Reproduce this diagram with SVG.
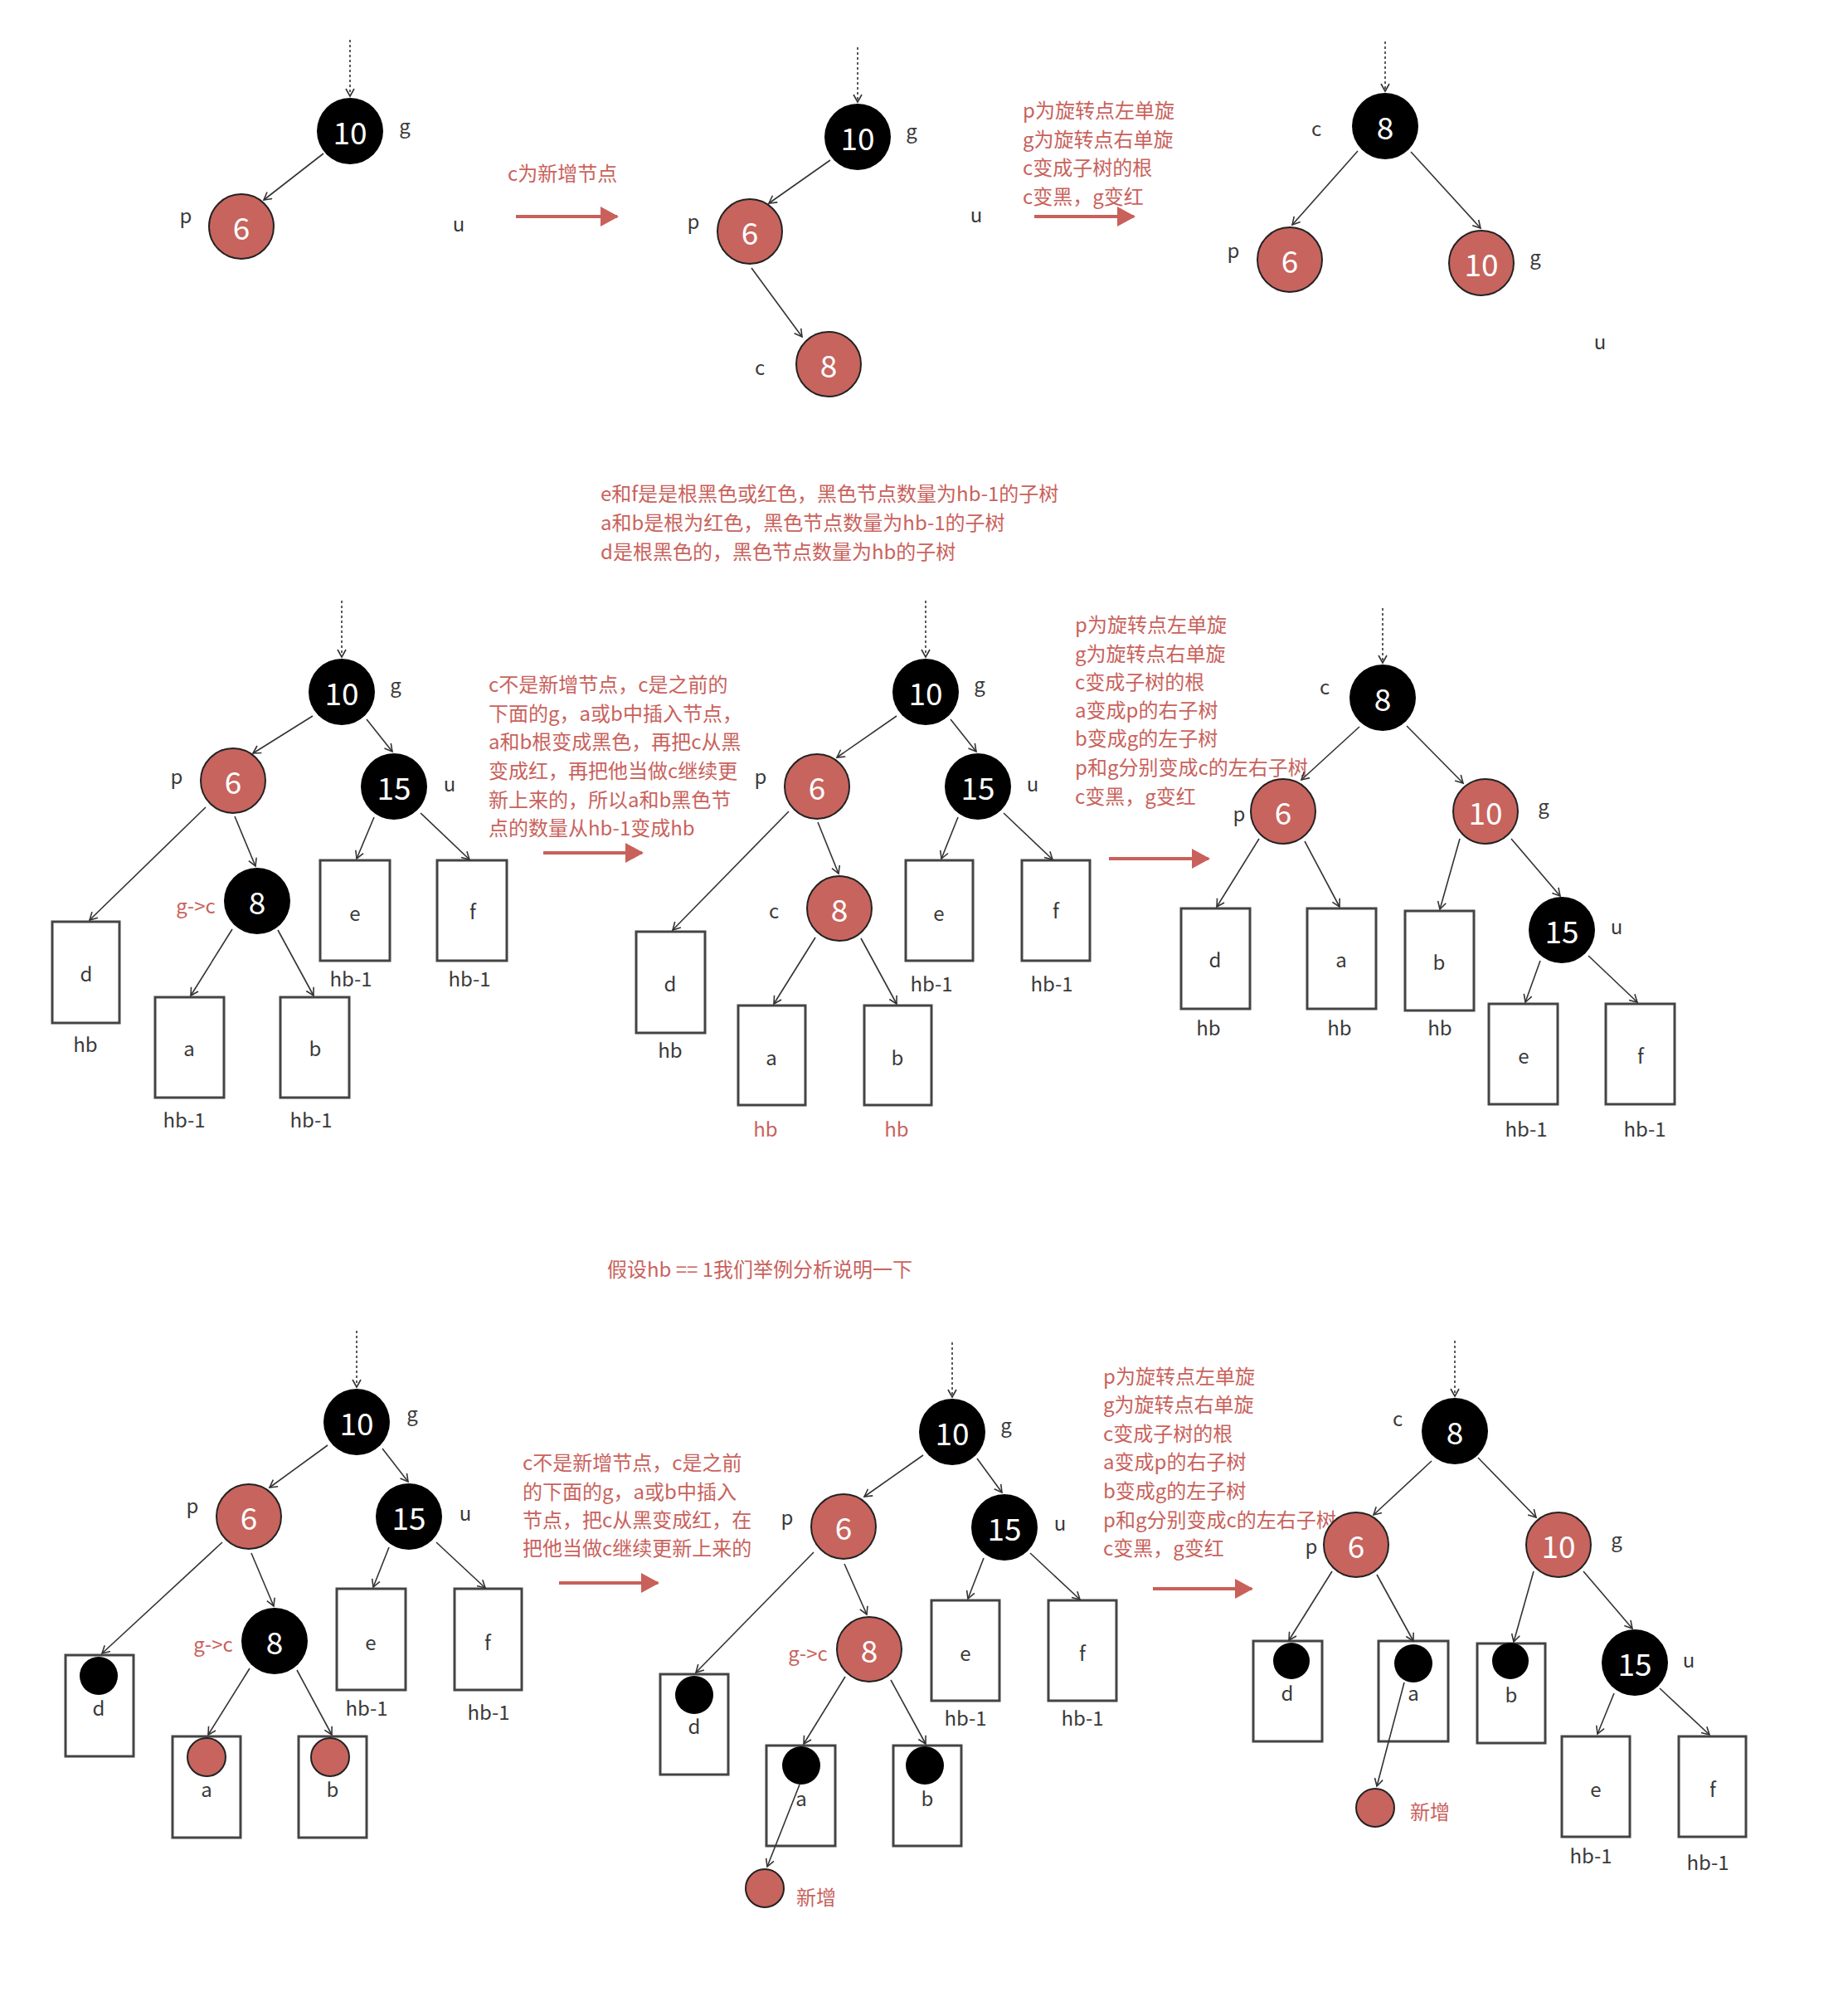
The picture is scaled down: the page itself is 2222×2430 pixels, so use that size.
<svg xmlns="http://www.w3.org/2000/svg" width="2222" height="2430" viewBox="0 0 2222 2430">
<style>
text{font-family:"Noto Sans CJK SC","Noto Sans",sans-serif}
.lbl{font-size:24px;fill:#3a3a3a;text-anchor:middle;dominant-baseline:central}
.num{font-size:37px;fill:#fff;text-anchor:middle;dominant-baseline:central}
.note{font-size:24px;fill:#c9625c;dominant-baseline:central}
.rl{font-size:24px;fill:#c9625c;text-anchor:middle;dominant-baseline:central}
.nb{fill:#000}
.nr{fill:#c7645e;stroke:#222;stroke-width:2}
.box{fill:#fff;stroke:#444;stroke-width:3}
.edge{stroke:#333;stroke-width:1.6;fill:none;marker-end:url(#ah)}
.dash{stroke:#333;stroke-width:1.6;fill:none;stroke-dasharray:3 3;marker-end:url(#ah)}
.big{stroke:#c9605a;stroke-width:4;fill:none;marker-end:url(#bh)}
</style>
<defs>
<marker id="ah" markerUnits="userSpaceOnUse" viewBox="0 0 12 12" markerWidth="12" markerHeight="12" refX="10" refY="6" orient="auto">
<path d="M1,1 L10,6 L1,11" fill="none" stroke="#333" stroke-width="1.6"/>
</marker>
<marker id="bh" markerUnits="userSpaceOnUse" viewBox="0 0 22 24" markerWidth="22" markerHeight="24" refX="20" refY="12" orient="auto">
<path d="M0,0 L22,12 L0,24 z" fill="#c9605a"/>
</marker>
</defs>
<rect width="2222" height="2430" fill="#fff"/>

<!-- notes -->
<g id="notes">
<text class="note" x="612" y="207">c为新增节点</text>
<text class="note" x="1233" y="131">p为旋转点左单旋</text>
<text class="note" x="1233" y="166">g为旋转点右单旋</text>
<text class="note" x="1233" y="200">c变成子树的根</text>
<text class="note" x="1233" y="235">c变黑，g变红</text>
<text class="note" x="724" y="593">e和f是是根黑色或红色，黑色节点数量为hb-1的子树</text>
<text class="note" x="724" y="628">a和b是根为红色，黑色节点数量为hb-1的子树</text>
<text class="note" x="724" y="663">d是根黑色的，黑色节点数量为hb的子树</text>
<text class="note" x="589" y="823">c不是新增节点，c是之前的</text>
<text class="note" x="589" y="858">下面的g，a或b中插入节点，</text>
<text class="note" x="589" y="892">a和b根变成黑色，再把c从黑</text>
<text class="note" x="589" y="927">变成红，再把他当做c继续更</text>
<text class="note" x="589" y="962">新上来的，所以a和b黑色节</text>
<text class="note" x="589" y="996">点的数量从hb-1变成hb</text>
<text class="note" x="1296" y="751">p为旋转点左单旋</text>
<text class="note" x="1296" y="786">g为旋转点右单旋</text>
<text class="note" x="1296" y="820">c变成子树的根</text>
<text class="note" x="1296" y="854">a变成p的右子树</text>
<text class="note" x="1296" y="888">b变成g的左子树</text>
<text class="note" x="1296" y="923">p和g分别变成c的左右子树</text>
<text class="note" x="1296" y="958">c变黑，g变红</text>
<text class="note" x="732" y="1528">假设hb == 1我们举例分析说明一下</text>
<text class="note" x="630" y="1761">c不是新增节点，c是之前</text>
<text class="note" x="630" y="1796">的下面的g，a或b中插入</text>
<text class="note" x="630" y="1830">节点，把c从黑变成红，在</text>
<text class="note" x="630" y="1864">把他当做c继续更新上来的</text>
<text class="note" x="1330" y="1657">p为旋转点左单旋</text>
<text class="note" x="1330" y="1691">g为旋转点右单旋</text>
<text class="note" x="1330" y="1726">c变成子树的根</text>
<text class="note" x="1330" y="1760">a变成p的右子树</text>
<text class="note" x="1330" y="1795">b变成g的左子树</text>
<text class="note" x="1330" y="1830">p和g分别变成c的左右子树</text>
<text class="note" x="1330" y="1864">c变黑，g变红</text>
</g>

<!-- row 1 tree A -->
<g id="r1a-g"><circle class="nb" cx="422" cy="158" r="40"/><text class="num" x="422" y="158">10</text><text class="lbl" x="488" y="150">g</text></g>
<g id="r1a-p"><circle class="nr" cx="291" cy="273" r="39"/><text class="num" x="291" y="273">6</text><text class="lbl" x="224" y="258">p</text></g>
<g id="r1a-u"><text class="lbl" x="553" y="268">u</text></g>
<!-- row 1 tree B -->
<g id="r1b-g"><circle class="nb" cx="1034" cy="165" r="40"/><text class="num" x="1034" y="165">10</text><text class="lbl" x="1099" y="156">g</text></g>
<g id="r1b-p"><circle class="nr" cx="904" cy="279" r="39"/><text class="num" x="904" y="279">6</text><text class="lbl" x="836" y="265">p</text></g>
<g id="r1b-c"><circle class="nr" cx="999" cy="439" r="39"/><text class="num" x="999" y="439">8</text><text class="lbl" x="916" y="441">c</text></g>
<g id="r1b-u"><text class="lbl" x="1177" y="257">u</text></g>
<!-- row 1 tree C -->
<g id="r1c-c"><circle class="nb" cx="1670" cy="152" r="40"/><text class="num" x="1670" y="152">8</text><text class="lbl" x="1587" y="153">c</text></g>
<g id="r1c-p"><circle class="nr" cx="1555" cy="313" r="39"/><text class="num" x="1555" y="313">6</text><text class="lbl" x="1487" y="300">p</text></g>
<g id="r1c-g"><circle class="nr" cx="1786" cy="317" r="39"/><text class="num" x="1786" y="317">10</text><text class="lbl" x="1851" y="308">g</text></g>
<g id="r1c-u"><text class="lbl" x="1929" y="410">u</text></g>

<!-- row 2 tree A -->
<g id="r2a-g"><circle class="nb" cx="412" cy="834" r="40"/><text class="num" x="412" y="834">10</text><text class="lbl" x="477" y="824">g</text></g>
<g id="r2a-p"><circle class="nr" cx="281" cy="941" r="39"/><text class="num" x="281" y="941">6</text><text class="lbl" x="213" y="934">p</text></g>
<g id="r2a-u"><circle class="nb" cx="475" cy="948" r="40"/><text class="num" x="475" y="948">15</text><text class="lbl" x="542" y="943">u</text></g>
<g id="r2a-c"><circle class="nb" cx="310" cy="1086" r="40"/><text class="num" x="310" y="1086">8</text><text class="rl" x="236" y="1090">g-&gt;c</text></g>
<g id="r2a-d"><rect class="box" x="63" y="1111" width="81" height="122"/><text class="lbl" x="104" y="1172">d</text><text class="lbl" x="103" y="1257">hb</text></g>
<g id="r2a-a"><rect class="box" x="187" y="1202" width="83" height="121"/><text class="lbl" x="228" y="1262">a</text><text class="lbl" x="222" y="1348">hb-1</text></g>
<g id="r2a-b"><rect class="box" x="338" y="1202" width="83" height="121"/><text class="lbl" x="380" y="1262">b</text><text class="lbl" x="375" y="1348">hb-1</text></g>
<g id="r2a-e"><rect class="box" x="386" y="1037" width="84" height="121"/><text class="lbl" x="428" y="1099">e</text><text class="lbl" x="423" y="1178">hb-1</text></g>
<g id="r2a-f"><rect class="box" x="527" y="1037" width="84" height="121"/><text class="lbl" x="570" y="1097">f</text><text class="lbl" x="566" y="1178">hb-1</text></g>

<!-- row 2 tree B -->
<g id="r2b-g"><circle class="nb" cx="1116" cy="834" r="40"/><text class="num" x="1116" y="834">10</text><text class="lbl" x="1181" y="823">g</text></g>
<g id="r2b-p"><circle class="nr" cx="985" cy="948" r="39"/><text class="num" x="985" y="948">6</text><text class="lbl" x="917" y="934">p</text></g>
<g id="r2b-u"><circle class="nb" cx="1179" cy="948" r="40"/><text class="num" x="1179" y="948">15</text><text class="lbl" x="1245" y="943">u</text></g>
<g id="r2b-c"><circle class="nr" cx="1012" cy="1095" r="39"/><text class="num" x="1012" y="1095">8</text><text class="lbl" x="933" y="1096">c</text></g>
<g id="r2b-d"><rect class="box" x="767" y="1123" width="83" height="122"/><text class="lbl" x="808" y="1184">d</text><text class="lbl" x="808" y="1264">hb</text></g>
<g id="r2b-a"><rect class="box" x="890" y="1212" width="81" height="120"/><text class="lbl" x="930" y="1273">a</text><text class="rl" x="923" y="1359">hb</text></g>
<g id="r2b-b"><rect class="box" x="1042" y="1212" width="81" height="120"/><text class="lbl" x="1082" y="1273">b</text><text class="rl" x="1081" y="1359">hb</text></g>
<g id="r2b-e"><rect class="box" x="1092" y="1037" width="81" height="121"/><text class="lbl" x="1132" y="1099">e</text><text class="lbl" x="1123" y="1184">hb-1</text></g>
<g id="r2b-f"><rect class="box" x="1232" y="1037" width="82" height="121"/><text class="lbl" x="1273" y="1096">f</text><text class="lbl" x="1268" y="1184">hb-1</text></g>

<!-- row 2 tree C -->
<g id="r2c-c"><circle class="nb" cx="1667" cy="841" r="40"/><text class="num" x="1667" y="841">8</text><text class="lbl" x="1597" y="826">c</text></g>
<g id="r2c-p"><circle class="nr" cx="1547" cy="978" r="39"/><text class="num" x="1547" y="978">6</text><text class="lbl" x="1494" y="979">p</text></g>
<g id="r2c-g"><circle class="nr" cx="1791" cy="978" r="39"/><text class="num" x="1791" y="978">10</text><text class="lbl" x="1861" y="970">g</text></g>
<g id="r2c-u"><circle class="nb" cx="1883" cy="1121" r="40"/><text class="num" x="1883" y="1121">15</text><text class="lbl" x="1949" y="1115">u</text></g>
<g id="r2c-d"><rect class="box" x="1424" y="1095" width="83" height="121"/><text class="lbl" x="1465" y="1155">d</text><text class="lbl" x="1457" y="1237">hb</text></g>
<g id="r2c-a"><rect class="box" x="1576" y="1095" width="83" height="121"/><text class="lbl" x="1617" y="1155">a</text><text class="lbl" x="1615" y="1237">hb</text></g>
<g id="r2c-b"><rect class="box" x="1694" y="1098" width="83" height="120"/><text class="lbl" x="1735" y="1158">b</text><text class="lbl" x="1736" y="1237">hb</text></g>
<g id="r2c-e"><rect class="box" x="1795" y="1210" width="83" height="121"/><text class="lbl" x="1837" y="1271">e</text><text class="lbl" x="1840" y="1359">hb-1</text></g>
<g id="r2c-f"><rect class="box" x="1936" y="1210" width="83" height="121"/><text class="lbl" x="1978" y="1271">f</text><text class="lbl" x="1983" y="1359">hb-1</text></g>

<!-- row 3 tree A -->
<g id="r3a-g"><circle class="nb" cx="430" cy="1714" r="40"/><text class="num" x="430" y="1714">10</text><text class="lbl" x="497" y="1702">g</text></g>
<g id="r3a-p"><circle class="nr" cx="300" cy="1828" r="39"/><text class="num" x="300" y="1828">6</text><text class="lbl" x="232" y="1813">p</text></g>
<g id="r3a-u"><circle class="nb" cx="493" cy="1828" r="40"/><text class="num" x="493" y="1828">15</text><text class="lbl" x="561" y="1822">u</text></g>
<g id="r3a-c"><circle class="nb" cx="331" cy="1978" r="40"/><text class="num" x="331" y="1978">8</text><text class="rl" x="257" y="1980">g-&gt;c</text></g>
<g id="r3a-d"><rect class="box" x="79" y="1995" width="82" height="122"/><circle class="nb" cx="119" cy="2020" r="23"/><text class="lbl" x="119" y="2057">d</text></g>
<g id="r3a-a"><rect class="box" x="208" y="2093" width="82" height="122"/><circle class="nr" cx="249" cy="2118" r="23"/><text class="lbl" x="249" y="2155">a</text></g>
<g id="r3a-b"><rect class="box" x="360" y="2093" width="82" height="122"/><circle class="nr" cx="398" cy="2118" r="23"/><text class="lbl" x="401" y="2155">b</text></g>
<g id="r3a-e"><rect class="box" x="406" y="1915" width="83" height="122"/><text class="lbl" x="447" y="1978">e</text><text class="lbl" x="442" y="2057">hb-1</text></g>
<g id="r3a-f"><rect class="box" x="548" y="1915" width="81" height="122"/><text class="lbl" x="588" y="1978">f</text><text class="lbl" x="589" y="2062">hb-1</text></g>

<!-- row 3 tree B -->
<g id="r3b-g"><circle class="nb" cx="1148" cy="1726" r="40"/><text class="num" x="1148" y="1726">10</text><text class="lbl" x="1213" y="1716">g</text></g>
<g id="r3b-p"><circle class="nr" cx="1017" cy="1840" r="39"/><text class="num" x="1017" y="1840">6</text><text class="lbl" x="949" y="1827">p</text></g>
<g id="r3b-u"><circle class="nb" cx="1211" cy="1841" r="40"/><text class="num" x="1211" y="1841">15</text><text class="lbl" x="1278" y="1834">u</text></g>
<g id="r3b-c"><circle class="nr" cx="1048" cy="1988" r="39"/><text class="num" x="1048" y="1988">8</text><text class="rl" x="974" y="1991">g-&gt;c</text></g>
<g id="r3b-d"><rect class="box" x="796" y="2018" width="82" height="121"/><circle class="nb" cx="837" cy="2043" r="23"/><text class="lbl" x="837" y="2079">d</text></g>
<g id="r3b-a"><rect class="box" x="924" y="2104" width="83" height="121"/><circle class="nb" cx="966" cy="2128" r="23"/><text class="lbl" x="966" y="2166">a</text></g>
<g id="r3b-b"><rect class="box" x="1077" y="2104" width="82" height="121"/><circle class="nb" cx="1115" cy="2128" r="23"/><text class="lbl" x="1118" y="2166">b</text></g>
<g id="r3b-e"><rect class="box" x="1123" y="1929" width="82" height="121"/><text class="lbl" x="1164" y="1991">e</text><text class="lbl" x="1164" y="2069">hb-1</text></g>
<g id="r3b-f"><rect class="box" x="1264" y="1929" width="82" height="121"/><text class="lbl" x="1305" y="1991">f</text><text class="lbl" x="1305" y="2069">hb-1</text></g>
<g id="r3b-new"><circle class="nr" cx="922" cy="2276" r="23"/><text class="note" x="960" y="2285">新增</text></g>

<!-- row 3 tree C -->
<g id="r3c-c"><circle class="nb" cx="1754" cy="1725" r="40"/><text class="num" x="1754" y="1725">8</text><text class="lbl" x="1685" y="1708">c</text></g>
<g id="r3c-p"><circle class="nr" cx="1635" cy="1862" r="39"/><text class="num" x="1635" y="1862">6</text><text class="lbl" x="1581" y="1862">p</text></g>
<g id="r3c-g"><circle class="nr" cx="1879" cy="1862" r="39"/><text class="num" x="1879" y="1862">10</text><text class="lbl" x="1949" y="1854">g</text></g>
<g id="r3c-u"><circle class="nb" cx="1971" cy="2004" r="40"/><text class="num" x="1971" y="2004">15</text><text class="lbl" x="2036" y="1999">u</text></g>
<g id="r3c-d"><rect class="box" x="1511" y="1978" width="83" height="121"/><circle class="nb" cx="1557" cy="2002" r="22"/><text class="lbl" x="1552" y="2039">d</text></g>
<g id="r3c-a"><rect class="box" x="1662" y="1978" width="84" height="121"/><circle class="nb" cx="1704" cy="2005" r="23"/><text class="lbl" x="1704" y="2039">a</text></g>
<g id="r3c-b"><rect class="box" x="1781" y="1981" width="82" height="120"/><circle class="nb" cx="1821" cy="2002" r="22"/><text class="lbl" x="1822" y="2041">b</text></g>
<g id="r3c-e"><rect class="box" x="1883" y="2093" width="82" height="121"/><text class="lbl" x="1924" y="2155">e</text><text class="lbl" x="1918" y="2235">hb-1</text></g>
<g id="r3c-f"><rect class="box" x="2024" y="2093" width="81" height="121"/><text class="lbl" x="2065" y="2155">f</text><text class="lbl" x="2059" y="2243">hb-1</text></g>
<g id="r3c-new"><circle class="nr" cx="1658" cy="2179" r="23"/><text class="note" x="1700" y="2182">新增</text></g>

<!-- connectors -->
<g id="connectors">
<!-- row 1 -->
<path class="dash" d="M422,48 L422,116"/>
<path class="edge" d="M390,185 L318,241"/>
<path class="big" d="M622,261 L744,261"/>
<path class="dash" d="M1034,57 L1034,123"/>
<path class="edge" d="M1001,193 L927,245"/>
<path class="edge" d="M906,323 L967,406"/>
<path class="big" d="M1247,261 L1367,261"/>
<path class="dash" d="M1670,50 L1670,110"/>
<path class="edge" d="M1637,182 L1558,271"/>
<path class="edge" d="M1701,183 L1785,275"/>
<!-- row 2 tree A -->
<path class="dash" d="M412,724 L412,792"/>
<path class="edge" d="M377,863 L305,908"/>
<path class="edge" d="M442,867 L473,906"/>
<path class="edge" d="M248,973 L108,1109"/>
<path class="edge" d="M283,984 L308,1044"/>
<path class="edge" d="M280,1120 L230,1200"/>
<path class="edge" d="M335,1121 L378,1200"/>
<path class="edge" d="M451,985 L430,1035"/>
<path class="edge" d="M507,980 L566,1036"/>
<path class="big" d="M655,1028 L774,1028"/>
<!-- row 2 tree B -->
<path class="dash" d="M1116,724 L1116,792"/>
<path class="edge" d="M1081,863 L1009,913"/>
<path class="edge" d="M1146,867 L1177,906"/>
<path class="edge" d="M951,978 L811,1121"/>
<path class="edge" d="M986,991 L1011,1053"/>
<path class="edge" d="M983,1130 L933,1210"/>
<path class="edge" d="M1038,1131 L1081,1210"/>
<path class="edge" d="M1155,985 L1135,1035"/>
<path class="edge" d="M1210,980 L1269,1036"/>
<path class="big" d="M1337,1035 L1457,1035"/>
<!-- row 2 tree C -->
<path class="dash" d="M1667,733 L1667,799"/>
<path class="edge" d="M1639,876 L1569,940"/>
<path class="edge" d="M1696,875 L1764,944"/>
<path class="edge" d="M1518,1011 L1467,1093"/>
<path class="edge" d="M1573,1014 L1615,1093"/>
<path class="edge" d="M1760,1011 L1736,1096"/>
<path class="edge" d="M1822,1011 L1881,1080"/>
<path class="edge" d="M1857,1158 L1839,1208"/>
<path class="edge" d="M1915,1152 L1974,1208"/>
<!-- row 3 tree A -->
<path class="dash" d="M430,1604 L430,1672"/>
<path class="edge" d="M395,1742 L325,1793"/>
<path class="edge" d="M461,1746 L492,1786"/>
<path class="edge" d="M268,1859 L123,1993"/>
<path class="edge" d="M303,1872 L330,1936"/>
<path class="edge" d="M301,2011 L251,2091"/>
<path class="edge" d="M358,2013 L400,2091"/>
<path class="edge" d="M469,1865 L450,1913"/>
<path class="edge" d="M526,1859 L585,1914"/>
<path class="big" d="M674,1908 L793,1908"/>
<!-- row 3 tree B -->
<path class="dash" d="M1148,1618 L1148,1684"/>
<path class="edge" d="M1113,1754 L1042,1804"/>
<path class="edge" d="M1178,1758 L1208,1799"/>
<path class="edge" d="M981,1871 L839,2016"/>
<path class="edge" d="M1018,1885 L1045,1946"/>
<path class="edge" d="M1019,2021 L969,2102"/>
<path class="edge" d="M1074,2025 L1116,2102"/>
<path class="edge" d="M1186,1878 L1167,1927"/>
<path class="edge" d="M1242,1872 L1302,1928"/>
<path class="edge" d="M964,2151 L925,2250"/>
<path class="big" d="M1390,1915 L1509,1915"/>
<!-- row 3 tree C -->
<path class="dash" d="M1754,1616 L1754,1683"/>
<path class="edge" d="M1726,1761 L1656,1826"/>
<path class="edge" d="M1782,1757 L1852,1829"/>
<path class="edge" d="M1606,1894 L1554,1977"/>
<path class="edge" d="M1660,1898 L1704,1978"/>
<path class="edge" d="M1849,1894 L1825,1979"/>
<path class="edge" d="M1909,1894 L1968,1963"/>
<path class="edge" d="M1946,2041 L1926,2090"/>
<path class="edge" d="M2001,2035 L2061,2091"/>
<path class="edge" d="M1693,2028 L1660,2153"/>
</g>
</svg>
